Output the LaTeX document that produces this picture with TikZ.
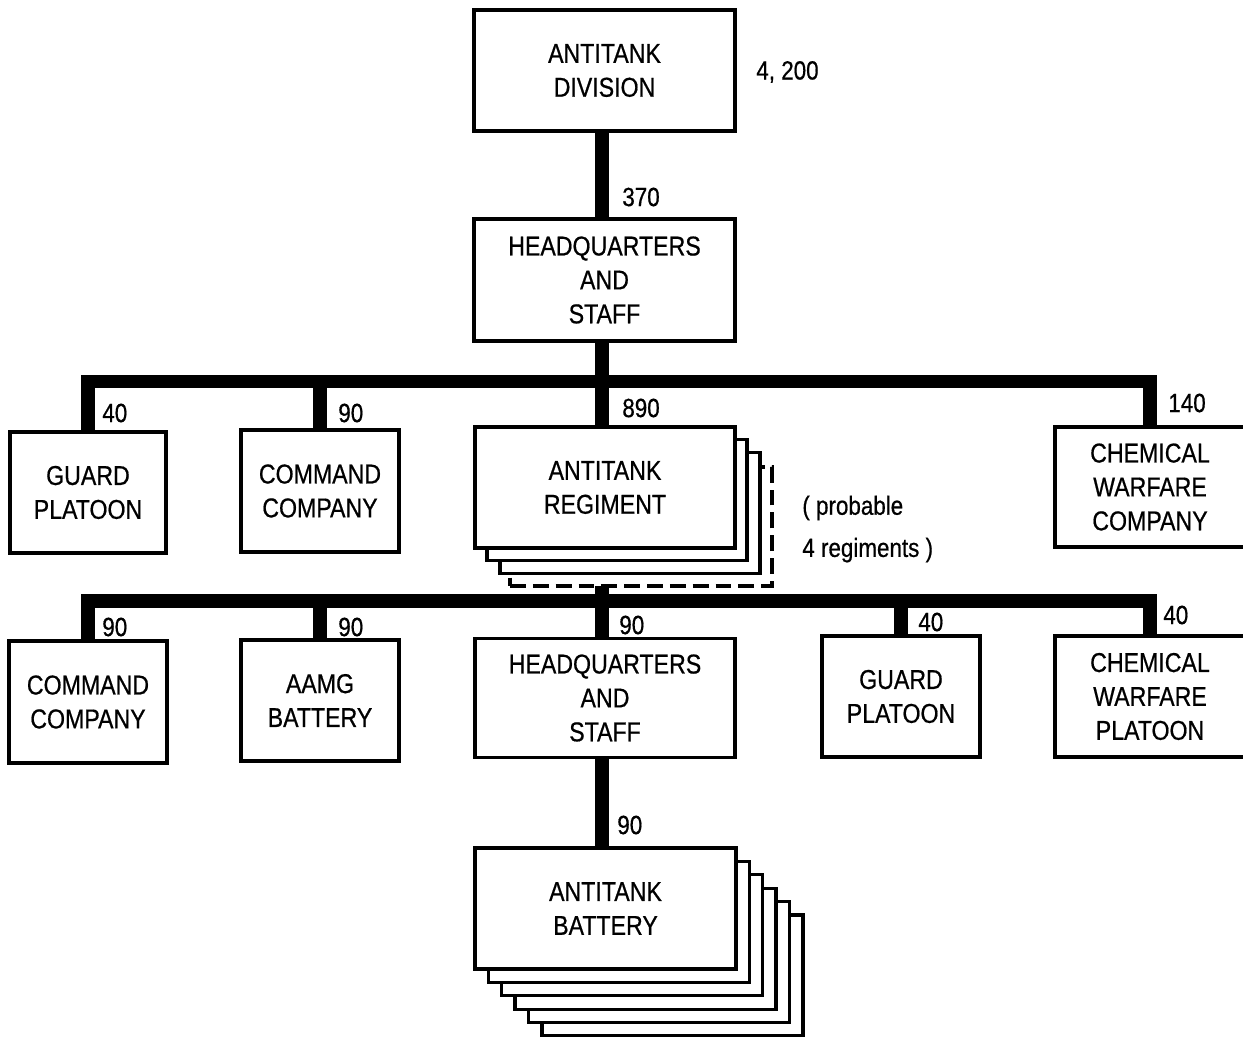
\documentclass[tikz,border=0pt]{standalone}
\usepackage{fontspec}
\newfontfamily\condfont[FakeStretch=0.85, FakeBold=0.6]{Liberation Sans}
\usetikzlibrary{calc}

\tikzset{
  unitbox/.style={draw, line width=2pt, fill=white, inner sep=0pt, outer sep=0pt,
    align=center, font=\condfont\fontsize{15.5}{19.3}\selectfont},
  sz/.style n args={2}{minimum width=#1*0.02cm, minimum height=#2*0.02cm},
  bar/.style={line width=7.8pt, line join=miter},
  strength/.style={anchor=west, inner sep=0pt, font=\condfont\fontsize{15}{18}\selectfont},
}

\begin{document}
\begin{tikzpicture}[x=0.02cm, y=-0.02cm]
  \useasboundingbox (0,0) rectangle (1243,1036);
  \fill[white] (0,0) rectangle (1243,1036);

  % division and its staff
  \node[unitbox, sz={261}{121}] (div) at (604.5,70.5) {ANTITANK\\DIVISION};
  \node[unitbox, sz={261}{122}] (hq1) at (604.5,280) {HEADQUARTERS\\AND\\STAFF};

  % divisional units
  \node[unitbox, sz={156}{121}] (guard1) at (88,492.5) {GUARD\\PLATOON};
  \node[unitbox, sz={158}{122}] (cmd1) at (320,491) {COMMAND\\COMPANY};
  \node[unitbox, sz={190}{120}] (chem1) at (1150,487) {CHEMICAL\\WARFARE\\COMPANY};

  % regiment stack (probably four)
  \node[unitbox, dashed, dash pattern=on 9pt off 4pt, sz={262}{119}] (regD) at (641,526.5) {};
  \node[unitbox, sz={260}{121}] (reg3) at (630,513) {};
  \node[unitbox, sz={260}{121}] (reg2) at (617,500) {};
  \node[unitbox, sz={260}{121}] (reg) at (605,487.5) {ANTITANK\\REGIMENT};

  % regimental units
  \node[unitbox, sz={158}{122}] (cmd2) at (88,702) {COMMAND\\COMPANY};
  \node[unitbox, sz={158}{121}] (aamg) at (320,700.5) {AAMG\\BATTERY};
  \node[unitbox, sz={260}{119}] (hq2) at (605,698) {HEADQUARTERS\\AND\\STAFF};
  \node[unitbox, sz={158}{121}] (guard2) at (901,696.5) {GUARD\\PLATOON};
  \node[unitbox, sz={190}{121}] (chem2) at (1150,696.5) {CHEMICAL\\WARFARE\\PLATOON};

  % battery stack
  \node[unitbox, sz={261}{121}] (bat5) at (672.5,975.5) {};
  \node[unitbox, sz={261}{121}] (bat4) at (659,962) {};
  \node[unitbox, sz={261}{121}] (bat3) at (645.5,949) {};
  \node[unitbox, sz={261}{121}] (bat2) at (632,935) {};
  \node[unitbox, sz={261}{121}] (bat1) at (619,922) {};
  \node[unitbox, sz={261}{121}] (bat) at (605.5,908.5) {ANTITANK\\BATTERY};

  % command lines; the trunk runs straight down at x = 602
  \coordinate (b1) at (602,381.5);
  \coordinate (b2) at (602,601);
  \draw[bar] (b1 |- div.south) -- (b1 |- hq1.north);
  \draw[bar] (b1 |- hq1.south) -- (b1 |- reg.north);
  \draw[bar] (guard1.north) |- (b1) -| (chem1.north);
  \draw[bar] (cmd1.north) -- (cmd1.north |- b1);
  \draw[bar] (b2 |- regD.south) -- (b2 |- hq2.north);
  \draw[bar] (cmd2.north) |- (b2) -| (chem2.north);
  \draw[bar] (aamg.north) -- (aamg.north |- b2);
  \draw[bar] (guard2.north) -- (guard2.north |- b2);
  \draw[bar] (b2 |- hq2.south) -- (b2 |- bat.north);

  % strengths
  \node[strength] (sdiv) at (756,72) {4, 200};
  \node[strength] (shq1) at (622,197) {370};
  \node[strength] (sguard1) at (102,413) {40};
  \node[strength] (scmd1) at (338,413) {90};
  \node[strength] (sreg) at (622,408) {890};
  \node[strength] (schem1) at (1168,403) {140};
  \node[strength] (scmd2) at (102,627) {90};
  \node[strength] (saamg) at (338,627) {90};
  \node[strength] (shq2) at (619,625) {90};
  \node[strength] (sguard2) at (918,622) {40};
  \node[strength] (schem2) at (1163,615) {40};
  \node[strength] (sbat) at (617,825) {90};

  \node[anchor=west, inner sep=0pt, align=left,
        font=\condfont\fontsize{15}{24}\selectfont] (note) at (802,529)
        {( probable\\4 regiments )};
\end{tikzpicture}
\end{document}
